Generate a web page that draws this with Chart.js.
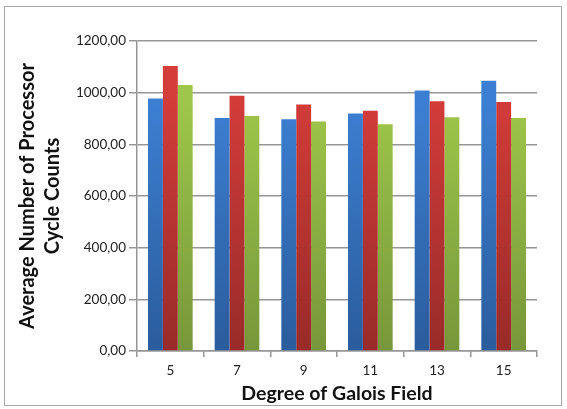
<!DOCTYPE html>
<html>
<head>
<meta charset="utf-8">
<script src="https://cdn.jsdelivr.net/npm/chart.js@4/dist/chart.umd.min.js"></script>
<style>
  html, body { margin: 0; padding: 0; background: #fff; }
  #wrap { position: relative; width: 567px; height: 409px; }
  #frame { position: absolute; left: 4px; top: 6px; width: 556px; height: 398px; border: 1px solid #a6a6a6; }
  canvas { position: absolute; left: 0; top: 0; }
</style>
</head>
<body>
<div id="wrap">
  <div id="frame"></div>
  <canvas id="chartId" width="567" height="409"></canvas>
</div>
<script>
const DEGREES = ['5', '7', '9', '11', '13', '15'];
const SERIES_A = [977, 902, 897, 919, 1008, 1046];
const SERIES_B = [1103, 988, 954, 930, 967, 964];
const SERIES_C = [1030, 910, 888, 878, 905, 902];

// vertical gradient, lighter at the top like the Excel bars
function barFill(top, bottom) {
  return function(ctx) {
    const area = ctx.chart.chartArea;
    if (!area) return top;
    const g = ctx.chart.ctx.createLinearGradient(0, area.top + 60, 0, area.bottom);
    g.addColorStop(0, top);
    g.addColorStop(1, bottom);
    return g;
  };
}

const fontFamily = "Lato, 'Open Sans', sans-serif";

const chart = new Chart(document.getElementById('chartId'), {
  type: 'bar',
  data: {
    labels: DEGREES,
    datasets: [
      { label: 'A', data: SERIES_A, backgroundColor: barFill('#3c7fd2', '#2b5c9c') },
      { label: 'B', data: SERIES_B, backgroundColor: barFill('#d23c39', '#982b29') },
      { label: 'C', data: SERIES_C, backgroundColor: barFill('#9fc64a', '#77963a') }
    ]
  },
  options: {
    responsive: false,
    animation: false,
    layout: { padding: { left: 15, top: 41, right: 30, bottom: 0 } },
    datasets: { bar: { categoryPercentage: 0.67, barPercentage: 1.0 } },
    plugins: {
      legend: { display: false },
      tooltip: { enabled: false }
    },
    scales: {
      y: {
        min: 0,
        max: 1200,
        ticks: {
          stepSize: 200,
          color: '#222',
          padding: 3,
          font: { family: fontFamily, size: 13.5 },
          callback: (v) => v.toFixed(2).replace('.', ',')
        },
        grid: { color: '#969696', lineWidth: 1.5, tickLength: 8 },
        border: { color: '#969696', width: 1.5 },
        title: {
          display: true,
          text: ['Average Number of Processor', 'Cycle Counts'],
          color: '#111',
          padding: { top: 0, bottom: 0 },
          font: { family: fontFamily, size: 20, weight: 'bold', lineHeight: 1.25 }
        },
        afterFit: (scale) => { scale.width = 122; }
      },
      x: {
        offset: true,
        ticks: {
          color: '#222',
          padding: 6,
          font: { family: fontFamily, size: 13.5 }
        },
        grid: { offset: true, drawOnChartArea: false, color: '#969696', lineWidth: 1.5, tickLength: 6 },
        border: { color: '#969696', width: 1.5 },
        title: {
          display: true,
          text: 'Degree of Galois Field',
          color: '#111',
          padding: { top: 0 },
          font: { family: fontFamily, size: 19.5, weight: 'bold' }
        },
        afterFit: (scale) => { scale.height = 58; }
      }
    }
  }
});
</script>
</body>
</html>
